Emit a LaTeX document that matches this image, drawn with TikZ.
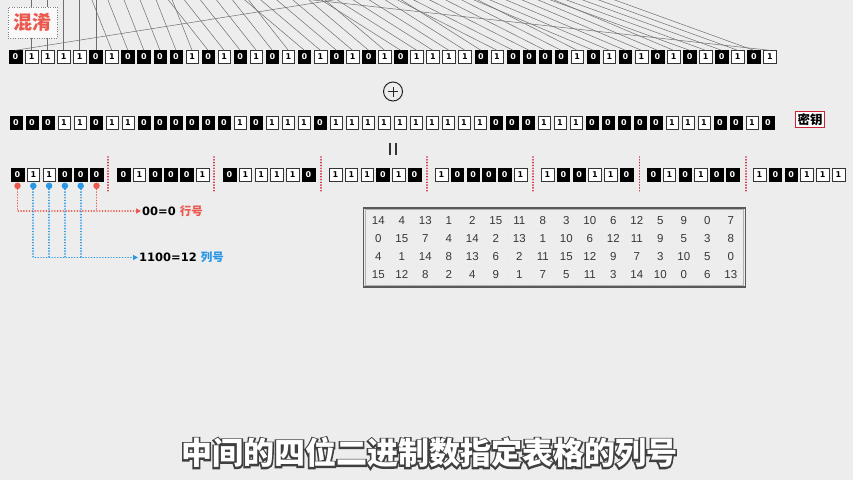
\documentclass[tikz,border=0pt]{standalone}
\usepackage{fontspec}
\setmainfont{Liberation Sans}
\newfontfamily\cjk{Noto Sans CJK SC}
\newfontfamily\cjkoutline{Noto Sans CJK SC}[FakeBold=10]
\newfontfamily\dejavu{DejaVu Sans}
\usetikzlibrary{arrows.meta,matrix,positioning}
\definecolor{paper}{RGB}{237,237,237}
\definecolor{coral}{RGB}{234,88,78}
\definecolor{skyblue}{RGB}{42,150,230}
\definecolor{sepred}{RGB}{205,35,55}
\definecolor{wiregray}{RGB}{110,110,110}
\definecolor{cellgray}{RGB}{55,55,55}

\begin{document}
\begin{tikzpicture}
 [x=1pt, y=-1pt,
  bit0/.style={draw=black, fill=black, text=white, minimum width=12.5pt, minimum height=13pt, inner sep=0pt, font=\dejavu\bfseries\fontsize{8}{8}\selectfont},
  bit1/.style={bit0, draw=black!80, fill=white, text=black},
  wire/.style={draw=wiregray, line width=0.5pt},
  sep line/.style={draw=sepred, line width=1.8pt, line cap=round, dash pattern=on 0.01pt off 2.8pt},
  dot/.style={circle, inner sep=0pt, minimum size=6.5pt},
  row drop/.style={draw=coral, line width=1.8pt, line cap=round, dash pattern=on 0.01pt off 2.8pt},
  col drop/.style={row drop, draw=skyblue},
  tip/.style={-{Triangle[length=5pt,width=5pt]}},
  lbl/.style={anchor=west, inner sep=1pt, font=\dejavu\bfseries\fontsize{11.5}{12}\selectfont},
  cell/.style={draw=gray!15, minimum width=23.1pt, minimum height=17.75pt, inner sep=0pt, text=cellgray, font=\fontsize{11.5}{12}\selectfont}]

\useasboundingbox (0,0) rectangle (853,480);
\fill[paper] (0,0) rectangle (853,480);

% expanded block, key and the xor result
\foreach \b [count=\i] in {0,1,1,1,1,0,1,0,0,0,0,1,0,1,0,1,0,1,0,1,0,1,0,1,
                           0,1,1,1,1,0,1,0,0,0,0,1,0,1,0,1,0,1,0,1,0,1,0,1}
  \node[bit\b] (t\i) at ({15.5+(\i-1)*16.05}, 57) {\b};
\foreach \b [count=\i] in {0,0,0,1,1,0,1,1,0,0,0,0,0,0,1,0,1,1,1,0,1,1,1,1,
                           1,1,1,1,1,1,0,0,0,1,1,1,0,0,0,0,0,1,1,1,0,0,1,0}
  \node[bit\b] (k\i) at ({16+(\i-1)*16}, 122.5) {\b};
\foreach \b [count=\i] in {0,1,1,0,0,0,0,1,0,0,0,1,0,1,1,1,1,0,1,1,1,0,1,0,
                           1,0,0,0,0,1,1,0,0,1,1,0,0,1,0,1,0,0,1,0,0,1,1,1}
{
  \pgfmathsetmacro\px{17.5+int((\i-1)/6)*106+mod(\i-1,6)*15.8}
  \node[bit\b] (r\i) at (\px, 174.5) {\b};
}

\begin{scope}
\clip (0,0) rectangle (853,480);
\foreach \j in {1,...,32}
  \coordinate (in\j) at ({15.5+\j*16.05}, -31);
\foreach \s [count=\i] in {32,1,2,3,4,5,4,5,6,7,8,9,8,9,10,11,12,13,12,13,14,15,16,17,
                           16,17,18,19,20,21,20,21,22,23,24,25,24,25,26,27,28,29,28,29,30,31,32,1}
  \draw[wire] (in\s) -- (t\i.north);
\end{scope}

\node (mix) [draw=gray, dotted, fill=white!95!gray, text=coral, minimum width=49pt, minimum height=31pt, inner sep=0pt,
  font=\cjk\bfseries\fontsize{19}{19}\selectfont] at (32.5,22.5) {混淆};

\node (xor) [circle, draw=black!85, line width=1pt, minimum size=19pt, inner sep=0pt] at (393,91.5) {};
\draw[line width=1pt, black!85] ([xshift=-5pt]xor.center) -- ([xshift=5pt]xor.center)
  ([yshift=-5pt]xor.center) -- ([yshift=5pt]xor.center);

\node (key) [draw=sepred, line width=1.2pt, fill=white, inner sep=2pt,
  font=\cjk\bfseries\fontsize{12.5}{13}\selectfont] at (810,119.5) {密钥};

\draw[line width=2.6pt, black!80] (390,143) -- (390,155) (396,143) -- (396,155);

\foreach \g in {1,...,7}
  \draw[sep line] ({108+(\g-1)*106.3},157) -- ++(0,36);

% outer bits give the row, middle bits the column
\node[dot, fill=coral, below=1.2pt of r1] (d1) {};
\foreach \i in {2,...,5}
  \node[dot, fill=skyblue, below=1.2pt of r\i] (d\i) {};
\node[dot, fill=coral, below=1.2pt of r6] (d6) {};

\node[lbl] (rowlbl) at (141,211) {00=0 {\cjk\bfseries\color{coral}行号}};
\node[lbl] (collbl) at (138,257.5) {1100=12 {\cjk\bfseries\color{skyblue}列号}};

\draw[row drop, tip] (d1) |- (rowlbl.west);
\draw[row drop] (d6) -- (d6 |- rowlbl.west);
\draw[col drop, tip] (d2) |- (collbl.west);
\foreach \i in {3,4,5}
  \draw[col drop] (d\i) -- (d\i |- collbl.west);

\matrix (sbox) [matrix of nodes, nodes={cell}, column sep=0pt, row sep=0pt, inner sep=1pt] at (554.5,247.5) {
14 & 4 & 13 & 1 & 2 & 15 & 11 & 8 & 3 & 10 & 6 & 12 & 5 & 9 & 0 & 7 \\
0 & 15 & 7 & 4 & 14 & 2 & 13 & 1 & 10 & 6 & 12 & 11 & 9 & 5 & 3 & 8 \\
4 & 1 & 14 & 8 & 13 & 6 & 2 & 11 & 15 & 12 & 9 & 7 & 3 & 10 & 5 & 0 \\
15 & 12 & 8 & 2 & 4 & 9 & 1 & 7 & 5 & 11 & 3 & 14 & 10 & 0 & 6 & 13 \\
};
\draw[gray!60, line width=0.6pt] (sbox.north west) rectangle (sbox.south east);
\draw[black!65, line width=1.3pt] ([shift={(-1.8,-1.8)}]sbox.north west) rectangle ([shift={(1.8,1.8)}]sbox.south east);

\node (caption) [text=white, font=\fontsize{31}{31}\selectfont] at (429,453)
  {\rlap{\cjkoutline\bfseries\color{black!75}中间的四位二进制数指定表格的列号}\cjk\bfseries 中间的四位二进制数指定表格的列号};

\end{tikzpicture}
\end{document}
